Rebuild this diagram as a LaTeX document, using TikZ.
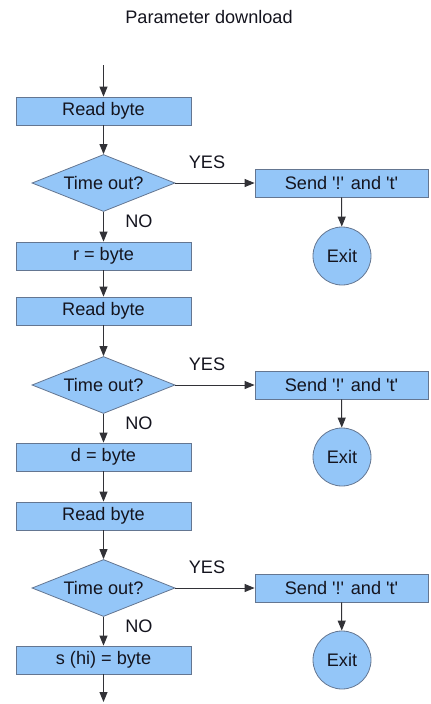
\documentclass[tikz,border=0pt]{standalone}
\usepackage{fontspec}
\setmainfont{Liberation Sans}
\usetikzlibrary{shapes.geometric,arrows.meta}
\definecolor{boxfill}{RGB}{148,198,248}
\definecolor{boxline}{RGB}{100,118,145}
\definecolor{ink}{RGB}{20,20,30}
\definecolor{wire}{RGB}{50,50,55}
\newcommand{\sq}{\textquotesingle}
\begin{document}
\begin{tikzpicture}[x=0.75pt,y=-0.75pt,
  font=\fontsize{13.6}{16}\selectfont, text=ink,
  proc/.style={rectangle,draw=boxline,fill=boxfill,line width=0.6pt,
    minimum width=131.25pt,minimum height=21pt,inner sep=0pt},
  sendbox/.style={proc,minimum width=129.75pt},
  decide/.style={diamond,draw=boxline,fill=boxfill,line width=0.6pt,
    aspect=2.5,minimum width=107.25pt,minimum height=42.75pt,inner sep=0pt},
  term/.style={circle,draw=boxline,fill=boxfill,line width=0.6pt,
    minimum size=43.5pt,inner sep=0pt},
  flow/.style={draw=wire,line width=0.75pt,-{Triangle[length=7.5pt,width=6pt]}},
  lbl/.style={inner sep=0pt}]
  \useasboundingbox (0,0) rectangle (430,704);

  \node[lbl] (title) at (209,17) {Parameter download};

  \coordinate (start) at (103.5,65);
  \coordinate (stop) at (103.5,702);

  % three read / check / store stages
  \foreach \i/\rb/\d/\v/\val in {1/111/183/256/{r = byte},
                                 2/311/385/457/{d = byte},
                                 3/516/588/660/{s (hi) = byte}}{
    \node[proc] (rb\i) at (103.5,\rb) {Read byte};
    \node[decide] (dc\i) at (103.5,\d) {Time out?};
    \node[proc] (st\i) at (103.5,\v) {\val};
    \node[sendbox] (sd\i) at (341.5,\d) {Send \sq!\sq{} and \sq t\sq};
    \node[term] (ex\i) at (342,\v) {Exit};
    \draw[flow] (rb\i) -- (dc\i);
    \draw[flow] (dc\i.east) -- (sd\i.west);
    \draw[flow] (sd\i) -- (ex\i);
    \draw[flow] (dc\i) -- (st\i);
    \node[lbl] (yes\i) at (207,\d-21) {YES};
    \node[lbl] (no\i) at (139,\d+38) {NO};
  }

  \draw[flow] (start) -- (rb1);
  \draw[flow] (st1) -- (rb2);
  \draw[flow] (st2) -- (rb3);
  \draw[flow] (st3) -- (stop);
\end{tikzpicture}
\end{document}
